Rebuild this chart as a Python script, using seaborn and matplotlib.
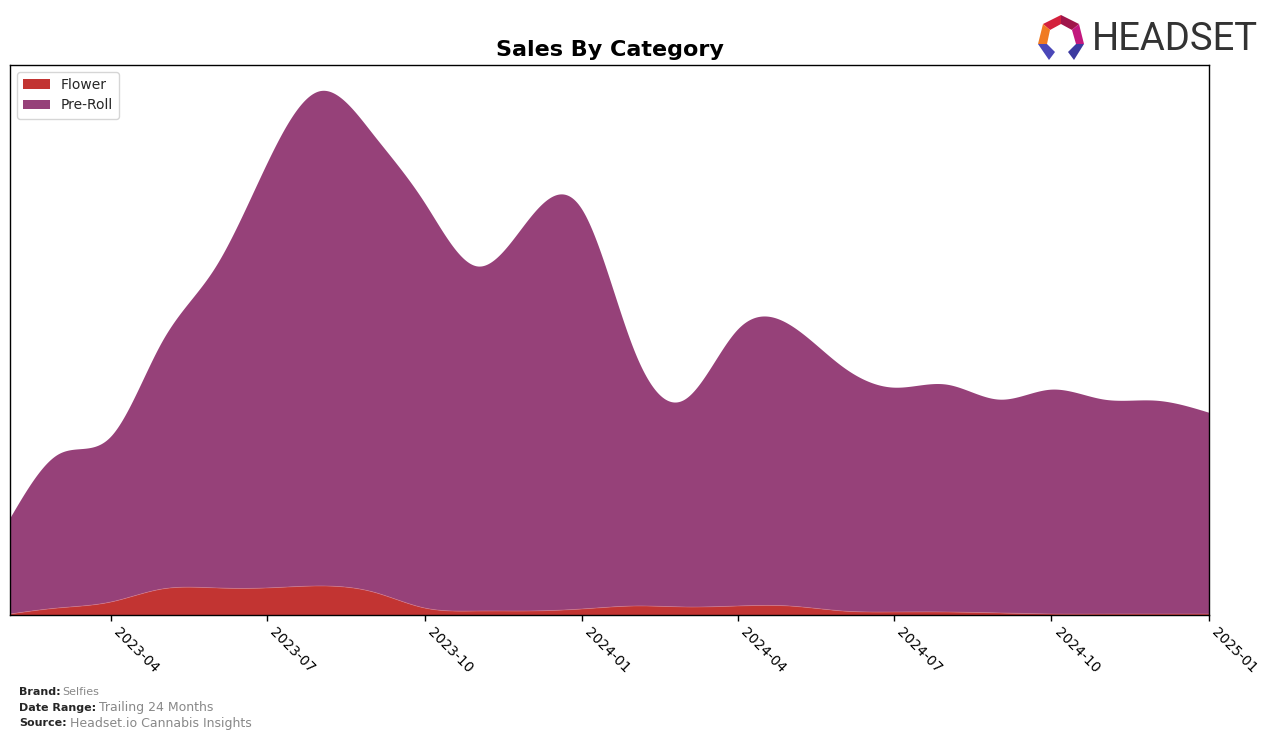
import numpy as np
import pandas as pd
import matplotlib
matplotlib.use("Agg")
import matplotlib.pyplot as plt
import matplotlib.dates as mdates
from matplotlib.patches import Polygon
import seaborn as sns

# ---- data (monthly) ----
months = pd.date_range("2023-02-01", "2025-01-01", freq="MS")
total = [96, 160, 178, 273, 347, 450, 523, 480, 412, 348, 395, 405,
         262, 215, 285, 290, 248, 227, 230, 215, 225, 215, 214, 202]
flower = [1, 7, 13, 26, 27, 27, 29, 23, 7, 4, 4, 6,
          9, 8, 9, 9, 4, 3, 3, 2, 1, 1, 1, 1]
preroll = [t - f for t, f in zip(total, flower)]
categories = ["Flower", "Pre-Roll"]
colors = ["#C23432", "#964179"]
xtick_labels = ["2023-04", "2023-07", "2023-10", "2024-01",
                "2024-04", "2024-07", "2024-10", "2025-01"]

df = pd.DataFrame({"month": months, "Flower": flower, "Pre-Roll": preroll})


def natural_cubic(x, y, xs):
    x = np.asarray(x, float)
    y = np.asarray(y, float)
    n = len(x)
    h = np.diff(x)
    A = np.zeros((n, n))
    b = np.zeros(n)
    A[0, 0] = 1
    A[-1, -1] = 1
    for i in range(1, n - 1):
        A[i, i - 1] = h[i - 1]
        A[i, i] = 2 * (h[i - 1] + h[i])
        A[i, i + 1] = h[i]
        b[i] = 3 * ((y[i + 1] - y[i]) / h[i] - (y[i] - y[i - 1]) / h[i - 1])
    c = np.linalg.solve(A, b)
    bb = (y[1:] - y[:-1]) / h - h * (2 * c[:-1] + c[1:]) / 3
    d = (c[1:] - c[:-1]) / (3 * h)
    idx = np.clip(np.searchsorted(x, xs, side="right") - 1, 0, n - 2)
    dx = xs - x[idx]
    return y[idx] + bb[idx] * dx + c[idx] * dx ** 2 + d[idx] * dx ** 3


xnum = mdates.date2num(df["month"])
xs = np.linspace(xnum[0], xnum[-1], 800)
fl_s = np.clip(natural_cubic(xnum, df["Flower"], xs), 0, None)
pr_s = np.clip(natural_cubic(xnum, df["Pre-Roll"], xs), 0, None)
xs_dates = mdates.num2date(xs)

# ---- style ----
sns.set_theme(style="white")
plt.rcParams["font.family"] = ["DejaVu Sans"]

fig = plt.figure(figsize=(12.76, 7.40), dpi=100)
ax = fig.add_axes([10 / 1276, 1 - 615 / 740, 1199 / 1276, 550 / 740])

ax.stackplot(xs_dates, fl_s, pr_s, labels=categories, colors=colors,
             edgecolor="none", linewidth=0)
sns.lineplot(x=xs_dates, y=fl_s, ax=ax, color="#D97A8A", linewidth=0.6,
             alpha=0.6, legend=False)

ax.set_xlim(xs_dates[0], xs_dates[-1])
ax.set_ylim(0, max(total) * 1.05)
ax.set_yticks([])
ax.set_xticks([pd.Timestamp(t + "-01") for t in xtick_labels])
ax.set_xticklabels(xtick_labels, rotation=-45, ha="left", fontsize=10)
ax.tick_params(axis="x", bottom=True, length=4, width=1, color="black", pad=3,
               labelcolor="black")
for s in ax.spines.values():
    s.set_visible(True)
    s.set_color("black")
    s.set_linewidth(1.0)
ax.set_xlabel("")
ax.set_ylabel("")

leg = ax.legend(loc="upper left", fontsize=10, frameon=True, fancybox=True,
                borderpad=0.45, handlelength=1.9, labelspacing=0.45)
leg.get_frame().set_edgecolor("#CCCCCC")

fig.text(609.5 / 1276, 1 - 50 / 740, "Sales By Category", ha="center",
         va="center", fontsize=16, fontweight="bold", color="black")

# ---- footer ----
fx = 19 / 1276
fig.text(fx, 1 - 692 / 740, "Brand:", fontsize=8, fontweight="bold", va="center")
fig.text(62 / 1276, 1 - 692 / 740, "Selfies", fontsize=8, color="#888888", va="center")
fig.text(fx, 1 - 708 / 740, "Date Range:", fontsize=8, fontweight="bold", va="center")
fig.text(99 / 1276, 1 - 708 / 740, "Trailing 24 Months", fontsize=9, color="#888888", va="center")
fig.text(fx, 1 - 723 / 740, "Source:", fontsize=8, fontweight="bold", va="center")
fig.text(70 / 1276, 1 - 723 / 740, "Headset.io Cannabis Insights", fontsize=9, color="#888888", va="center")

# ---- logo ----
fig.text(1092 / 1276, 1 - 39 / 740, "HEADSET", fontsize=27.5, color="#333333",
         va="center", ha="left", family=["Roboto", "DejaVu Sans"])


def P(pts, col):
    fig.patches.append(Polygon([(x / 1276, 1 - y / 740) for x, y in pts],
                               closed=True, transform=fig.transFigure,
                               facecolor=col, edgecolor="none"))


P([(1043, 24), (1061, 15), (1061, 24), (1050, 30)], "#D4213D")
P([(1061, 15), (1079, 24), (1072, 30), (1061, 24)], "#A0154A")
P([(1079, 24), (1084, 44), (1076, 44), (1072, 30)], "#C2187E")
P([(1043, 24), (1050, 30), (1047, 44), (1038, 44)], "#F07A22")
P([(1038, 44), (1047, 44), (1055, 52), (1049, 60)], "#4A47B8")
P([(1084, 44), (1076, 44), (1068, 52), (1074, 60)], "#3C3AA0")

fig.savefig("out.png", dpi=100, facecolor="white")
